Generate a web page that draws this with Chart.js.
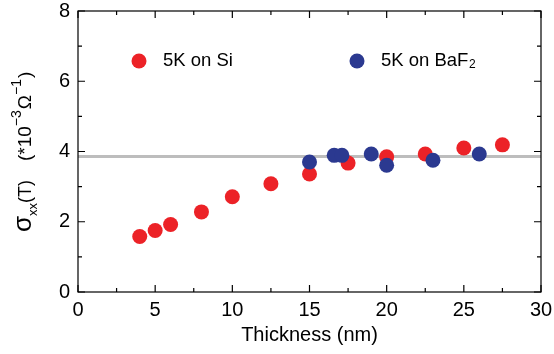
<!DOCTYPE html>
<html>
<head>
<meta charset="utf-8">
<script src="https://cdn.jsdelivr.net/npm/chart.js@4.4.1/dist/chart.umd.min.js"></script>
<style>
  html, body { margin: 0; padding: 0; background: #fff; }
  #wrap { width: 554px; height: 354px; }
</style>
</head>
<body>
<div id="wrap"><canvas id="c" width="554" height="354"></canvas></div>
<script>
// thickness (nm) and sigma_xx (1e-3 / Ohm)
const siThickness = [4, 5, 6, 8, 10, 12.5, 15, 17.5, 20, 22.5, 25, 27.5];
const siSigma     = [1.58, 1.75, 1.92, 2.28, 2.71, 3.08, 3.36, 3.67, 3.85, 3.93, 4.10, 4.19];
const bafThickness = [15, 16.6, 17.1, 19, 20, 23, 26];
const bafSigma     = [3.70, 3.89, 3.89, 3.93, 3.61, 3.75, 3.93];
const refLineX = [0, 30];
const refLineY = [3.86, 3.86];
const xTicks = [0, 5, 10, 15, 20, 25, 30];
const yTicks = [0, 2, 4, 6, 8];

const RED = '#ec2227';
const BLUE = '#2b3990';
const FONT = '"Liberation Sans", Arial, sans-serif';

const pts = (xs, ys) => xs.map((x, i) => ({ x, y: ys[i] }));

// inward ticks on all four sides + closing box
const frame = {
  id: 'frame',
  afterDatasetsDraw(chart) {
    const { ctx, chartArea: a, scales: { x, y } } = chart;
    ctx.save();
    ctx.strokeStyle = '#000';
    ctx.lineWidth = 1.2;
    ctx.strokeRect(a.left, a.top, a.right - a.left, a.bottom - a.top);
    ctx.beginPath();
    for (let v = 0; v <= 30; v += 2.5) {
      const px = x.getPixelForValue(v);
      const len = v % 5 === 0 ? 7 : 4;
      ctx.moveTo(px, a.bottom); ctx.lineTo(px, a.bottom - len);
      ctx.moveTo(px, a.top); ctx.lineTo(px, a.top + len);
    }
    for (let v = 0; v <= 8; v += 1) {
      const py = y.getPixelForValue(v);
      const len = v % 2 === 0 ? 7 : 4;
      ctx.moveTo(a.left, py); ctx.lineTo(a.left + len, py);
      ctx.moveTo(a.right, py); ctx.lineTo(a.right - len, py);
    }
    ctx.stroke();
    ctx.restore();
  }
};

// legend and rotated y title
const labels = {
  id: 'labels',
  afterDraw(chart) {
    const { ctx, chartArea: a } = chart;
    ctx.save();
    ctx.textBaseline = 'middle';
    const ly = a.top + 50;
    const items = [
      { color: RED, dx: 61, text: '5K on Si' },
      { color: BLUE, dx: 279, text: '5K on BaF' }
    ];
    items.forEach((it, i) => {
      const cx = a.left + it.dx;
      ctx.fillStyle = it.color;
      ctx.beginPath(); ctx.arc(cx, ly, 7.5, 0, Math.PI * 2); ctx.fill();
      ctx.fillStyle = '#000';
      ctx.font = '18.5px ' + FONT;
      ctx.textAlign = 'left';
      ctx.fillText(it.text, cx + 24, ly);
      if (i === 1) {
        const w = ctx.measureText(it.text).width;
        ctx.font = '12px ' + FONT;
        ctx.fillText('2', cx + 24 + w + 0.5, ly + 4);
      }
    });

    // y title, drawn rotated
    ctx.fillStyle = '#000';
    ctx.translate(31, 232);
    ctx.rotate(-Math.PI / 2);
    ctx.textBaseline = 'alphabetic';
    ctx.textAlign = 'left';
    let cx = 0;
    const put = (s, size, dy) => {
      ctx.font = size + 'px ' + FONT;
      ctx.fillText(s, cx, dy);
      cx += ctx.measureText(s).width;
    };
    put('σ', 26, 0);
    put('xx', 13, 6);
    put('(T)', 18, 0);
    cx = 71;
    put('(*10', 19, 0);
    put('−3', 14, -10);
    cx += 1;
    put('Ω', 19, 0);
    put('−1', 14, -10);
    cx += 1;
    put(')', 19, 0);
    ctx.restore();
  }
};

new Chart(document.getElementById('c'), {
  type: 'scatter',
  data: {
    datasets: [
      {
        type: 'line',
        data: pts(refLineX, refLineY),
        borderColor: '#bdbdbd',
        borderWidth: 3,
        pointRadius: 0,
        order: 3
      },
      {
        data: pts(siThickness, siSigma),
        backgroundColor: RED,
        borderWidth: 0,
        pointRadius: 7.5,
        order: 2
      },
      {
        data: pts(bafThickness, bafSigma),
        backgroundColor: BLUE,
        borderWidth: 0,
        pointRadius: 7.5,
        order: 1
      }
    ]
  },
  options: {
    responsive: false,
    animation: false,
    devicePixelRatio: 1,
    layout: { padding: { top: 11, right: 13, left: 0, bottom: 0 } },
    plugins: { legend: { display: false }, tooltip: { enabled: false } },
    scales: {
      x: {
        type: 'linear', min: 0, max: 30,
        afterBuildTicks: s => { s.ticks = xTicks.map(v => ({ value: v })); },
        afterFit: s => { s.height = 62; s.paddingLeft = 0; s.paddingRight = 0; },
        grid: { display: false, drawTicks: false },
        border: { display: false },
        ticks: { color: '#000', font: { family: FONT, size: 20 }, padding: 6 },
        title: { display: true, text: 'Thickness (nm)', color: '#000', font: { family: FONT, size: 20 }, padding: { top: 7, bottom: 7 } }
      },
      y: {
        type: 'linear', min: 0, max: 8,
        afterBuildTicks: s => { s.ticks = yTicks.map(v => ({ value: v })); },
        afterFit: s => { s.width = 78; s.paddingTop = 0; s.paddingBottom = 0; },
        grid: { display: false, drawTicks: false },
        border: { display: false },
        ticks: { color: '#000', font: { family: FONT, size: 20 }, padding: 8 }
      }
    }
  },
  plugins: [frame, labels]
});
</script>
</body>
</html>
